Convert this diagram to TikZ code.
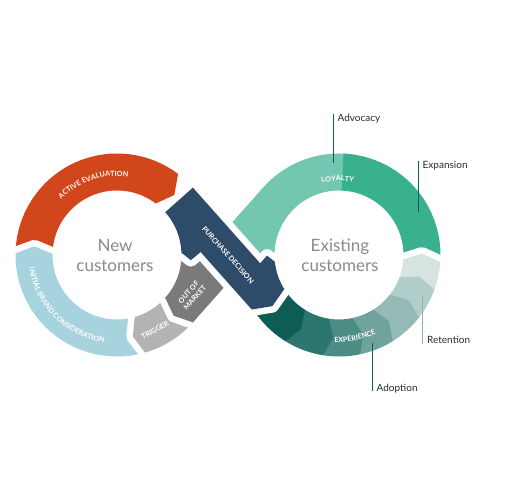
\documentclass[tikz,border=0pt]{standalone}
\usepackage{fontspec}
\setmainfont{Lato}
\setsansfont{Lato}
\usepackage{xcolor}
\definecolor{cOrange}{HTML}{D2461B}
\definecolor{cBlue}{HTML}{A7D3DE}
\definecolor{cTrigger}{HTML}{B3B3B3}
\definecolor{cMarket}{HTML}{7A7A7A}
\definecolor{cDecision}{HTML}{2F4B6A}
\definecolor{cLoyalty}{HTML}{73C7B1}
\definecolor{cExpansion}{HTML}{39B18F}
\definecolor{cExpA}{HTML}{0E5D54}
\definecolor{cExpB}{HTML}{2B7770}
\definecolor{cExpC}{HTML}{4B8C85}
\definecolor{cExpD}{HTML}{6FA39C}
\definecolor{cExpE}{HTML}{93BAB5}
\definecolor{cExpF}{HTML}{B1CECA}
\definecolor{cExpG}{HTML}{D5E3E1}
\definecolor{cHub}{HTML}{8A8A8A}
\definecolor{cTag}{HTML}{2B2B2B}
\definecolor{cLine}{HTML}{0E5D54}
\definecolor{cLineSoft}{HTML}{86B6B0}
\usepackage{tikz}
\usetikzlibrary{calc,decorations.text}
\newcommand{\rIn}{64.5pt}
\newcommand{\rOut}{101.5pt}
\newcommand{\rMid}{83pt}
\newcommand{\bandfont}{\fontsize{7.2}{8.4}\selectfont\bfseries}
% ring piece: centre, tail angle, head angle, tip angle, style
\newcommand{\ringpiece}[5]{%
  \path[#5] ($(#1)+(#2:\rOut)$) arc[start angle=#2, end angle=#3, radius=\rOut]
    -- ($(#1)+(#4:\rMid)$) -- ($(#1)+(#3:\rIn)$)
    arc[start angle=#3, end angle=#2, radius=\rIn] -- cycle;}
\tikzset{
  piece/.style={fill=#1},
  piece-cut/.style={fill=#1,
    preaction={fill=white,draw=white,line width=13pt,line join=round}},
  band-text/.style={font=\bandfont,text=white,inner sep=0pt,align=center},
  hub-text/.style={font=\fontsize{17}{20}\selectfont,text=cHub,align=center},
  tag-text/.style={font=\fontsize{10}{12}\selectfont,text=cTag,
    inner sep=0pt,anchor=base west},
  tag-line/.style={draw=cLine,line width=1.2pt},
  tag-line-soft/.style={draw=cLineSoft,line width=1.2pt},
}

\begin{document}
\begin{tikzpicture}[x=1pt,y=1pt]
  \useasboundingbox (0,0) rectangle (524,487);
  \coordinate (L) at (117,232);
  \coordinate (R) at (339,232);
  \coordinate (M) at (228,232);

  % left loop
  \ringpiece{L}{190}{53}{46.3}{piece=cOrange}
  \ringpiece{L}{295}{179}{174}{piece-cut=cBlue}
  \ringpiece{L}{-30}{-74}{-79}{piece-cut=cTrigger}
  \ringpiece{L}{15}{-41.6}{-47}{piece-cut=cMarket}
  \fill[cMarket] ($(L)+(-41.6:\rIn)$) -- ($(L)+(-41.6:\rOut)$)
    -- ($(M)+(-41.6:18.5pt)$) -- ($(M)+(138.4:18.5pt)$) -- cycle;

  % right loop
  \ringpiece{R}{195}{80}{80}{piece=cLoyalty}
  \fill[cLoyalty] ($(R)+(138.4:\rIn)$) -- ($(R)+(138.4:\rOut)$)
    -- ($(M)+(138.4:18.5pt)$) -- ($(M)+(-41.6:18.5pt)$) -- cycle;
  \ringpiece{R}{-12}{87.5}{87.5}{piece=cExpansion}
  \ringpiece{R}{340}{356}{361}{piece-cut=cExpG}
  \ringpiece{R}{322}{340}{345}{piece=cExpF}
  \ringpiece{R}{302}{322}{327}{piece=cExpE}
  \ringpiece{R}{282}{302}{307}{piece=cExpD}
  \ringpiece{R}{261}{282}{287}{piece=cExpC}
  \ringpiece{R}{238}{261}{266}{piece=cExpB}
  \ringpiece{R}{200}{238}{243}{piece=cExpA}

  % purchase decision crossing
  \path[piece-cut=cDecision] ($(L)+(41.6:\rOut)$) -- ($(R)+(186:79.3pt)$)
    -- ($(R)+(180.5:72pt)$) -- ($(R)+(186:\rIn)$)
    arc[start angle=186, end angle=212, radius=\rIn]
    -- ($(R)+(217.5:84pt)$) -- ($(R)+(212:102.9pt)$)
    -- ($(L)+(2:83.7pt)$) -- ($(L)+(-4:74pt)$) -- ($(L)+(2:\rIn)$)
    arc[start angle=2, end angle=41.6, radius=\rIn] -- cycle;

  % labels on the loops
  \path[decorate,decoration={text along path,text align=center,text color=white,
    text={|\bandfont|ACTIVE EVALUATION}}]
    ($(L)+(150:78.9pt)$) arc[start angle=150, end angle=67, radius=78.9pt];
  \path[decorate,decoration={text along path,text align=center,text color=white,
    text={|\bandfont|INITIAL BRAND CONSIDERATION}}]
    ($(L)+(168:88.6pt)$) arc[start angle=168, end angle=282, radius=88.6pt];
  \path[decorate,decoration={text along path,text align=center,text color=white,
    text={|\bandfont|LOYALTY}}]
    ($(R)+(130:74.1pt)$) arc[start angle=130, end angle=52, radius=74.1pt];
  \path[decorate,decoration={text along path,text align=center,text color=white,
    text={|\bandfont|EXPERIENCE}}]
    ($(R)+(240:87.1pt)$) arc[start angle=240, end angle=322, radius=87.1pt];
  \node[band-text,rotate=-48.4] (decision) at (M) {PURCHASE DECISION};
  \node[band-text,rotate=48.4] (market) at (191.7,192) {OUT OF\\MARKET};
  \node[band-text,rotate=29] (trigger) at (155,157) {TRIGGER};

  \node[hub-text] (new) at (115,232) {New\\customers};
  \node[hub-text] (existing) at (340,232) {Existing\\customers};

  % call-outs
  \node[tag-text] (advocacy) at (337.5,365.5) {Advocacy};
  \node[tag-text] (expansion) at (422.5,318.5) {Expansion};
  \node[tag-text] (retention) at (427,143) {Retention};
  \node[tag-text] (adoption) at (376.5,95.5) {Adoption};
  \coordinate (advocacy-end) at (333.3,324);
  \coordinate (expansion-end) at (418.3,275.3);
  \coordinate (retention-end) at (422.7,192);
  \coordinate (adoption-end) at (372.3,144);
  \draw[tag-line] (advocacy-end |- advocacy.north) -- (advocacy-end);
  \draw[tag-line] (expansion-end |- expansion.north) -- (expansion-end);
  \draw[tag-line-soft] (retention-end) -- (retention-end |- retention.base);
  \draw[tag-line] (adoption-end) -- (adoption-end |- adoption.base);
\end{tikzpicture}
\end{document}
